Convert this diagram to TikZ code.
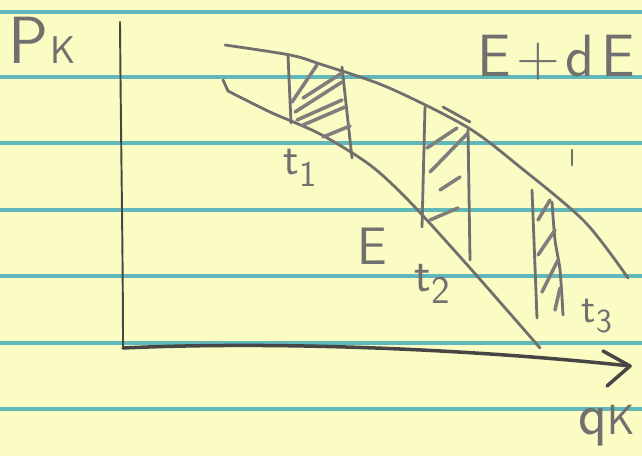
\documentclass[tikz,border=0pt]{standalone}
\usetikzlibrary{arrows.meta,calc}
\definecolor{paper}{RGB}{251,252,196}
\definecolor{rulecol}{RGB}{96,184,186}
\definecolor{pencil}{RGB}{112,112,110}
\definecolor{lead}{RGB}{70,70,70}
\tikzset{
  ruleln/.style={line width=2.6pt, rulecol},
  penln/.style={line width=1.6pt, pencil, line cap=round, line join=round},
  hatchln/.style={line width=2pt, pencil!90, line cap=round},
  axisln/.style={line width=1.1pt, lead, line cap=round, line join=round},
  hand/.style={pencil, inner sep=0pt, font=\sffamily},
}
\newcommand{\sub}[1]{\raisebox{-0.25em}{\scalebox{0.8}{#1}}}

\begin{document}
\begin{tikzpicture}[x=0.02cm, y=-0.02cm]
    \useasboundingbox (0,0) rectangle (642,456);
    \fill[paper] (0,0) rectangle (642,456);
    % ruled lines of the pad
    \foreach \yy in {12,77,143,210,276,343,409}
      \draw[ruleln] (0,\yy) -- (642,\yy);
    % axes
    \coordinate (ptop) at (120,22);
    \coordinate (origin) at (123,348);
    \coordinate (qtip) at (630,366);
    \draw[axisln] (ptop) .. controls (121,150) and (123,260) .. (origin);
    \draw[axisln, line width=2pt] (origin) .. controls (300,340) and (500,352) .. (qtip);
    \draw[axisln, line width=2pt] (603,351) -- (qtip) -- (607,386);
    \node[hand, font=\sffamily\fontsize{38}{40}\selectfont] (pk) at (42,40) {P\kern1pt{\fontsize{22}{24}\selectfont K}};
    \node[hand, font=\sffamily\fontsize{34}{36}\selectfont] (qk) at (607,426) {q{\fontsize{24}{26}\selectfont K}};
    % the two energy surfaces
    \draw[penln] plot[smooth, tension=0.5] coordinates
      {(225,45) (290,55) (320,64) (387,87) (467,127) (520,167) (585,222) (628,278)};
    \draw[penln] (223,80) -- (228,91);
    \draw[penln] plot[smooth, tension=0.5] coordinates
      {(228,91) (270,112) (320,134) (370,165) (410,202) (470,268) (540,348)};
    \node[hand, font=\sffamily\fontsize{34}{36}\selectfont] (EdE) at (556,58) {E\kern3pt+\kern3pt d\kern4pt E};
    \node[hand, font=\sffamily\fontsize{30}{32}\selectfont] (E) at (372,246) {E};
    % strip at t1
    \draw[penln] (288,55) -- (291,123);
    \draw[penln] (342,67) -- (352,158);
    \foreach \a/\b in {{(292,102)}/{(317,65)}, {(303,98)}/{(342,73)}, {(295,112)}/{(342,82)},
                       {(297,120)}/{(342,100)}, {(303,125)}/{(345,107)}, {(323,137)}/{(350,126)}}
      \draw[hatchln] \a -- \b;
    \node[hand, font=\sffamily\fontsize{26}{28}\selectfont] (t1) at (300,168) {t\sub{1}};
    % strip at t2
    \draw[penln] (425,107) -- (422,227);
    \draw[penln] (468,130) -- (470,260);
    \draw[penln] (443,107) -- (470,122);
    \foreach \a/\b in {{(427,148)}/{(457,128)}, {(430,172)}/{(468,133)},
                       {(440,190)}/{(460,177)}, {(430,220)}/{(458,208)}}
      \draw[hatchln] \a -- \b;
    \node[hand, font=\sffamily\fontsize{28}{30}\selectfont] (t2) at (432,284) {t\sub{2}};
    % strip at t3
    \draw[penln] (532,190) -- (537,318);
    \draw[penln] plot[smooth] coordinates {(552,202) (555,240) (560,270) (563,315)};
    \foreach \a/\b in {{(538,220)}/{(550,200)}, {(538,255)}/{(555,230)},
                       {(542,292)}/{(558,260)}, {(555,310)}/{(560,288)}}
      \draw[hatchln] \a -- \b;
    \node[hand, font=\sffamily\fontsize{24}{26}\selectfont] (t3) at (597,316) {t\sub{3}};
    \draw[penln] (572,150) -- (572,165);
  \end{tikzpicture}
\end{document}
